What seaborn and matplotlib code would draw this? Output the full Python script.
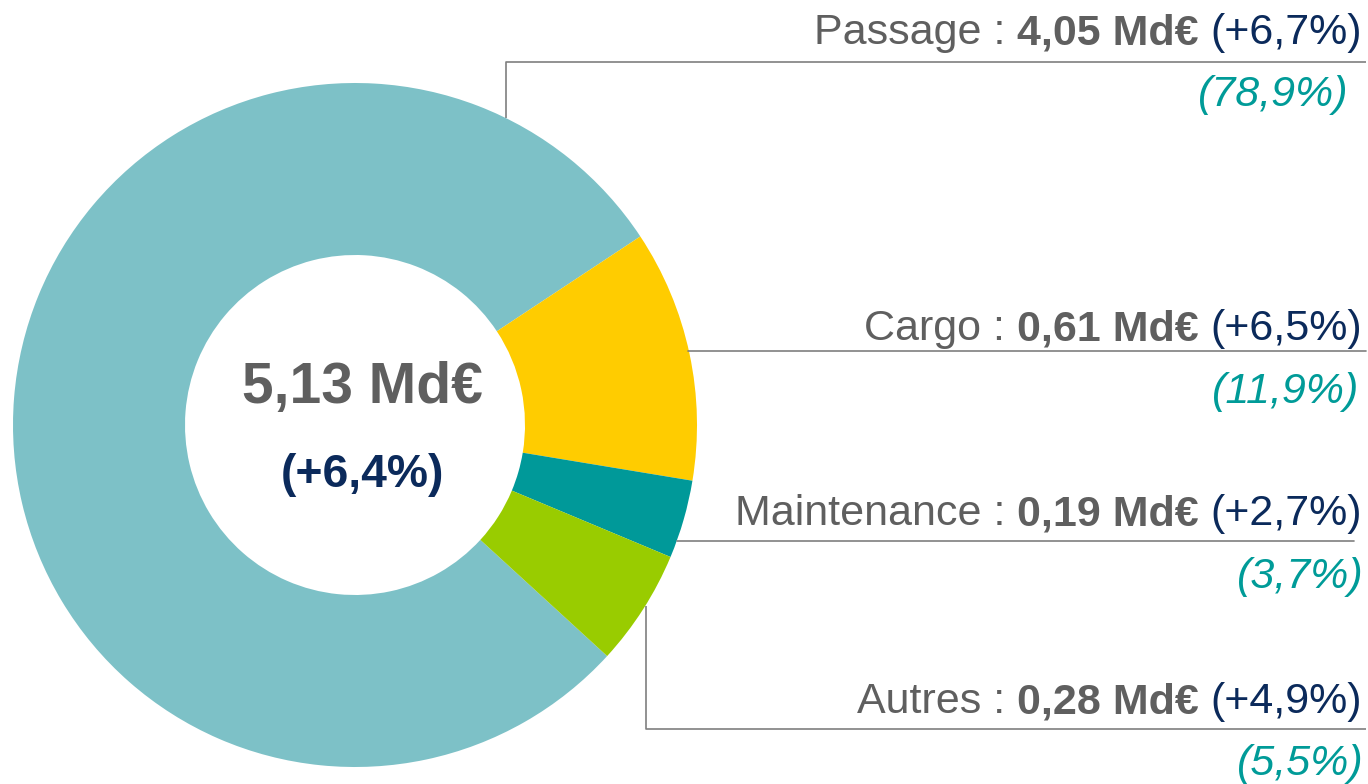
import matplotlib
matplotlib.use("Agg")
import matplotlib.pyplot as plt
import seaborn as sns

# ---- data ----
segments = ["Passage", "Cargo", "Maintenance", "Autres"]
shares = [78.9, 11.9, 3.7, 5.5]
revenue_labels = ["4,05 Md€", "0,61 Md€", "0,19 Md€", "0,28 Md€"]
growth_labels = ["(+6,7%)", "(+6,5%)", "(+2,7%)", "(+4,9%)"]
share_labels = ["(78,9%)", "(11,9%)", "(3,7%)", "(5,5%)"]
total_label = "5,13 Md€"
total_growth = "(+6,4%)"

sns.set_theme(style="white")
plt.rcParams['font.family'] = ['Liberation Sans', 'DejaVu Sans']

W, H = 1368, 784
GRAY = "#5f5f5f"
NAVY = "#0b2a5b"
TEAL = "#009b98"
LINE = "#7f7f7f"
colors = sns.color_palette(["#7dc1c7", "#ffcc00", "#009999", "#99cc00"])

fig = plt.figure(figsize=(W / 100, H / 100), dpi=100)
ax = fig.add_axes([0, 0, 1, 1])


def Y(ypx):
    return H - ypx


cx, cy, R, r_in = 355, 425, 342, 170
ax.pie(shares, colors=colors, startangle=-42.5, counterclock=False,
       radius=R, center=(cx, Y(cy)),
       wedgeprops=dict(width=R - r_in, linewidth=0))
ax.set_xlim(0, W)
ax.set_ylim(0, H)
ax.set_aspect('equal')
ax.axis('off')

# centre text
ax.text(362, Y(403), total_label, ha='center', va='baseline',
        fontsize=41, fontweight='bold', color=GRAY)
ax.text(362, Y(487), total_growth, ha='center', va='baseline',
        fontsize=33.3, fontweight='bold', color=NAVY)

# leader lines (pixel layout)
lw = 1.2
ax.plot([506, 506, 1366], [Y(118), Y(62), Y(62)], color=LINE, lw=lw, solid_capstyle='butt')
ax.plot([688, 1366], [Y(351), Y(351)], color=LINE, lw=lw)
ax.plot([677, 1354], [Y(541), Y(541)], color=LINE, lw=lw)
ax.plot([646, 646, 1366], [Y(606), Y(729), Y(729)], color=LINE, lw=lw, solid_capstyle='butt')

renderer = fig.canvas.get_renderer()
FS = 31
space = 0.278 * FS * 100 / 72


def rich_right(x_right, y_base, pieces):
    x = x_right
    for txt, kw in reversed(pieces):
        t = ax.text(x, Y(y_base), txt, ha='right', va='baseline', fontsize=FS, **kw)
        bb = t.get_window_extent(renderer=renderer)
        x -= bb.width + space


main_base = [44, 340, 525, 713]
share_base = [106, 403, 588, 775]
share_right = [1349, 1359, 1364, 1364]

for i, seg in enumerate(segments):
    rich_right(1362, main_base[i], [
        (seg + " :", dict(color=GRAY)),
        (revenue_labels[i], dict(color=GRAY, fontweight='bold')),
        (growth_labels[i], dict(color=NAVY)),
    ])
    ax.text(share_right[i], Y(share_base[i]), share_labels[i], ha='right', va='baseline',
            fontsize=FS, fontstyle='italic', color=TEAL)

fig.savefig("out.png", dpi=100, facecolor="white")
